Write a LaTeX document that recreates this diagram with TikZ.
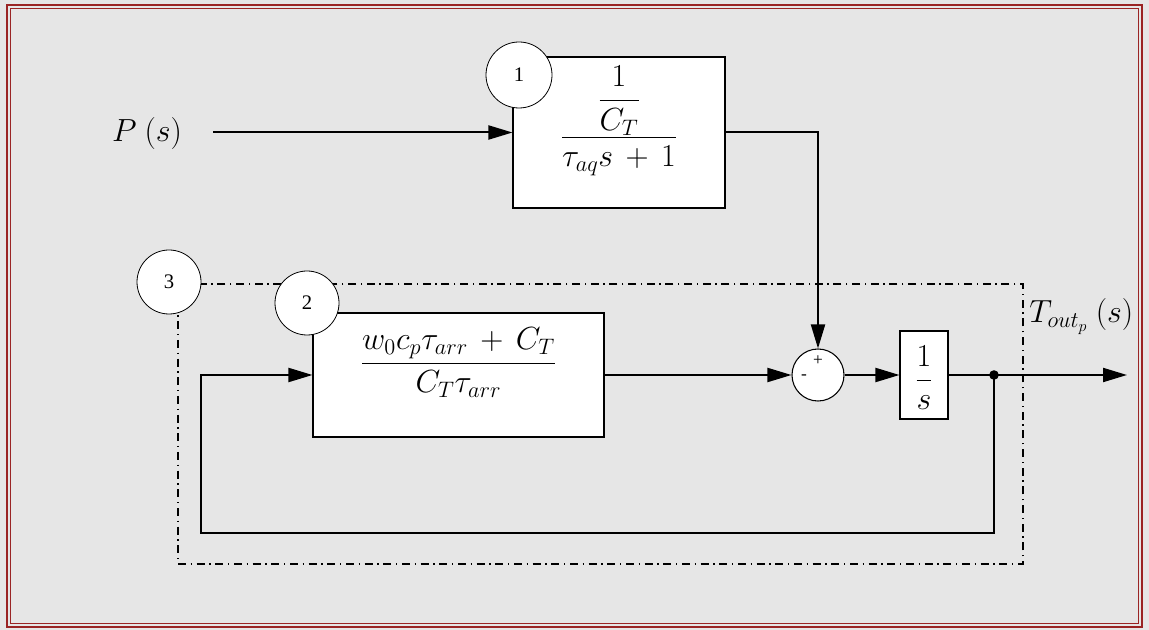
\RequirePackage{fix-cm}
\documentclass[tikz,border=0pt]{standalone}
\usepackage[no-math]{fontspec}
\setmainfont{Liberation Serif}
\usetikzlibrary{arrows.meta,fit}

\definecolor{paper}{HTML}{E6E6E6}
\definecolor{framered}{HTML}{9A2424}

% enlarged glyphs for the tag numbers and the junction signs
\newcommand{\tagnum}[1]{\scalebox{1.55}{#1}}
\newcommand{\signmark}[1]{\scalebox{1.3}{#1}}

\tikzset{
  blk/.style={draw=black, line width=0.8pt, fill=white, inner sep=0pt},
  tag/.style={circle, draw=black, line width=0.6pt, fill=white, minimum size=48pt,
    inner sep=0pt},
  sumj/.style={circle, draw=black, line width=0.8pt, fill=white, minimum size=39pt, inner sep=0pt},
  sign/.style={inner sep=0pt},
  wire/.style={line width=1.5pt, black},
  arr/.style={wire, -{Triangle[length=18pt, width=10.5pt]}},
  mth/.style={font=\fontsize{24}{28}\selectfont, inner sep=0pt},
  dashdot box/.style={line width=1.1pt, dash pattern=on 6pt off 3.5pt on 1pt off 3.5pt},
}

\begin{document}
\medmuskip=7mu plus 2mu minus 2mu\relax
\begin{tikzpicture}[x=0.75pt, y=-0.75pt]
  % canvas and double frame
  \fill[paper] (0,0) rectangle (1149,630);
  \useasboundingbox (0,0) rectangle (1149,630);
  \draw[framered, line width=1.6pt] (7,5) rectangle (1142,627);
  \draw[framered, line width=0.8pt] (10.5,8.5) rectangle (1138.5,623.5);

  % dash-dot enclosure of the loop
  \draw[dashdot box] (178,284) rectangle (1023,564);

  % blocks
  \node[blk, fit={(513,57) (725,208)}] (b1) {};
  \node[mth, anchor=base] at (619,145) {$\displaystyle\frac{\;{\displaystyle\frac{1}{C_T}}\;}{\tau_{aq}s+1}$};

  \node[blk, fit={(313,313) (604,437)}] (b2) {};
  \node[mth, anchor=base] at (458.5,371) {$\displaystyle\frac{w_0c_p\tau_{arr}+C_T}{C_T\tau_{arr}}$};

  \node[blk, fit={(900,331) (948,419)}] (bs) {};
  \node[mth, anchor=base] at (924,388) {$\displaystyle\frac{1}{s}$};

  \node[sumj] (sum) at (818,375) {};
  \node[sign] at (818,361) {\signmark{+}};
  \node[sign] at (804,377) {\signmark{-}};

  % signal labels
  \node[mth, anchor=base] (P) at (147,142) {$P\ (s)$};
  \node[mth, anchor=base west] (T) at (1029,323) {$T_{out_p}\ (s)$};

  % connection points
  \coordinate (pin) at (213,132.5);
  \coordinate (dot) at (994,375);
  \coordinate (out) at (1127,375);
  \coordinate (fbl) at (201,533);

  % connectors
  \draw[arr] (pin) -- (b1.west);
  \draw[arr] (b1.east) -| (sum.north);
  \draw[arr] (b2.east) -- (sum.west);
  \draw[arr] (sum.east) -- (bs.west);
  \draw[arr] (bs.east) -- (out);
  \draw[arr] (dot) |- (fbl) |- (b2.west);
  \fill (dot) circle (3.6pt);

  % numbered tags
  \node[tag, minimum size=49.5pt] (t1) at (519,75) {\tagnum{1}};
  \node[tag] (t2) at (307,303) {\tagnum{2}};
  \node[tag] (t3) at (169,282) {\tagnum{3}};
\end{tikzpicture}
\end{document}
